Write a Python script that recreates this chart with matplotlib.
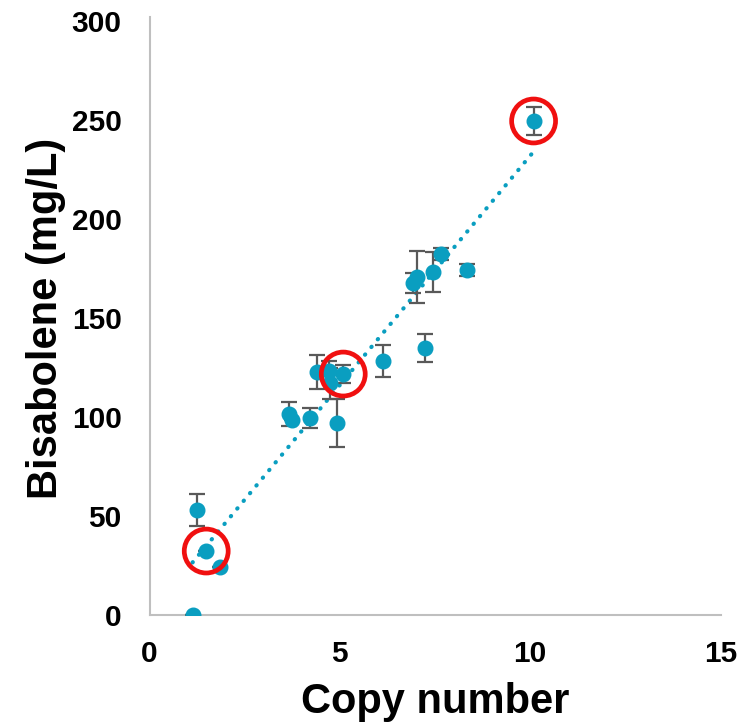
"""Bisabolene titre versus copy number, with linear trendline."""

import matplotlib

matplotlib.use("Agg")
import matplotlib.pyplot as plt
import numpy as np

copy_number = [1.13, 1.26, 1.49, 1.86, 3.67, 3.75, 4.22, 4.40, 4.72, 4.74,
               5.09, 4.93, 6.13, 6.92, 7.02, 7.23, 7.44, 7.65, 8.34, 10.09]
bisabolene = [0, 53, 32.3, 24, 101.5, 98.5, 99.5, 122.7, 123.2, 117,
              121.7, 97, 128.3, 167.7, 170.7, 134.8, 173.2, 182.3, 174.2, 249.5]
bisabolene_err = [0, 8, 0, 0, 6, 0, 5, 8.5, 5, 8,
                  4.5, 12, 8, 5, 13, 7, 10, 3, 3, 7]
highlighted = [2, 10, 19]  # circled strains

x = np.array(copy_number)
y = np.array(bisabolene)

plt.rcParams["font.family"] = ["Liberation Sans", "DejaVu Sans"]
plt.rcParams["font.weight"] = "bold"

teal = "#0A9EC0"

fig = plt.figure(figsize=(7.48, 7.27), dpi=100)
ax = fig.add_axes([149.5 / 748, 112 / 727, 571 / 748, 594 / 727])

# trendline over the data range
slope, intercept = np.polyfit(x, y, 1)
xs = np.array([x.min(), x.max()])
ax.plot(xs, slope * xs + intercept, color=teal, lw=3,
        linestyle=(0, (0.1, 2.3)), dash_capstyle="round", zorder=2)

ax.errorbar(x, y, yerr=bisabolene_err, fmt="o", color=teal, ms=10.5,
            ecolor="#595959", elinewidth=1.6, capsize=6, capthick=1.6,
            zorder=3)
ax.scatter(x[highlighted], y[highlighted], s=1000, facecolors="none",
           edgecolors="#F01010", linewidths=3.4, zorder=4)

ax.set_xlim(0, 15)
ax.set_ylim(0, 300)
ax.set_xticks([0, 5, 10, 15])
ax.set_yticks(range(0, 301, 50))
ax.tick_params(length=0, labelsize=21.5, pad=18)
ax.tick_params(axis="y", pad=20)

for side in ("top", "right"):
    ax.spines[side].set_visible(False)
ax.spines["left"].set_color("#BFBFBF")
ax.spines["bottom"].set_color("#BFBFBF")
ax.spines["left"].set_linewidth(1.5)
ax.spines["bottom"].set_linewidth(1.5)
ax.spines["left"].set_bounds(0, 302)

ax.set_xlabel("Copy number", fontsize=30, fontweight="bold", labelpad=10)
ax.set_ylabel("Bisabolene (mg/L)", fontsize=30, fontweight="bold",
              labelpad=4)

fig.savefig("out.png", dpi=100)
plt.close(fig)
